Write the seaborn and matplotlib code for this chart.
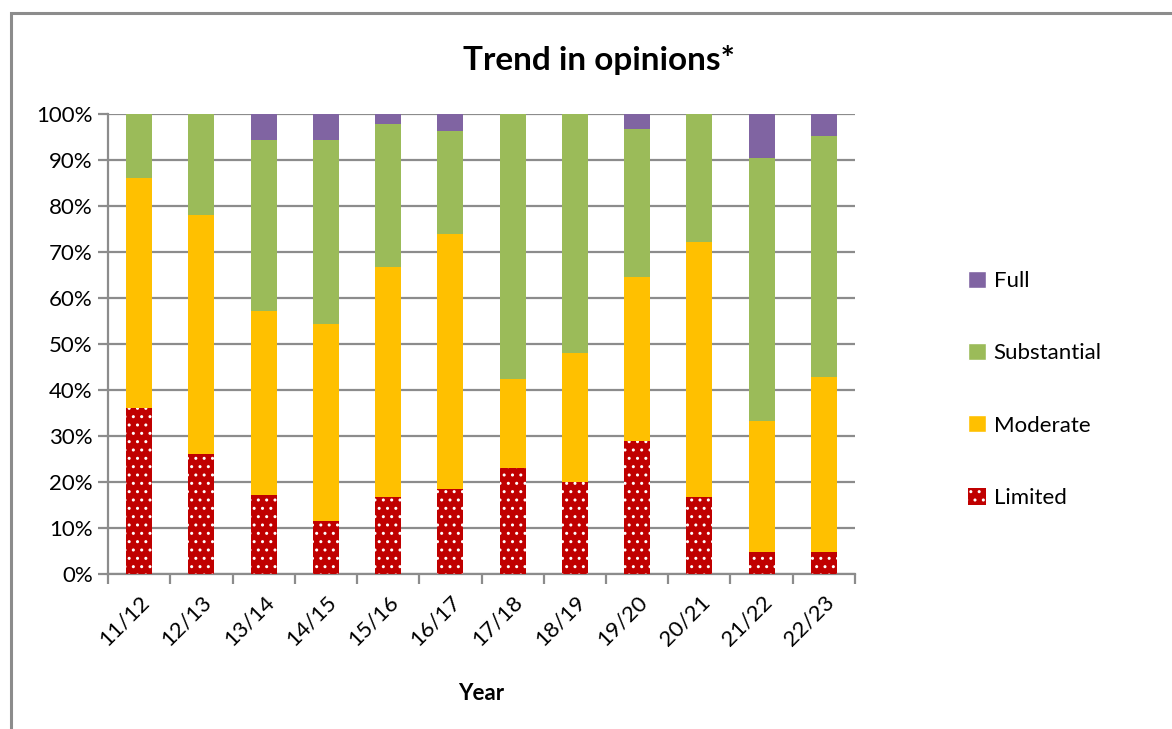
import seaborn as sns
import matplotlib.pyplot as plt
import pandas as pd
import numpy as np
from matplotlib.patches import Rectangle, Patch
from matplotlib.ticker import FixedLocator

# data, percent of responses per year
years = ["11/12", "12/13", "13/14", "14/15", "15/16", "16/17",
         "17/18", "18/19", "19/20", "20/21", "21/22", "22/23"]
limited = [36.0, 26.0, 17.1, 11.5, 16.7, 18.5, 23.1, 20.0, 29.0, 16.7, 4.8, 4.8]
moderate = [50.0, 52.0, 40.0, 42.8, 50.0, 55.5, 19.2, 28.0, 35.5, 55.5, 28.5, 38.1]
substantial = [14.0, 22.0, 37.2, 40.0, 31.2, 22.3, 57.7, 52.0, 32.3, 27.8, 57.2, 52.4]
full = [0.0, 0.0, 5.7, 5.7, 2.1, 3.7, 0.0, 0.0, 3.2, 0.0, 9.5, 4.7]

colors = {"Full": "#8064A2", "Substantial": "#9BBB59",
          "Moderate": "#FFC000", "Limited": "#C00000"}

df = pd.DataFrame({"Year": years, "Limited": limited, "Moderate": moderate,
                   "Substantial": substantial, "Full": full})
# cumulative tops, drawn from the tallest layer down
df["top_Limited"] = df["Limited"]
df["top_Moderate"] = df["top_Limited"] + df["Moderate"]
df["top_Substantial"] = df["top_Moderate"] + df["Substantial"]
df["top_Full"] = df["top_Substantial"] + df["Full"]

sns.set_theme(style="white", rc={"text.color": "black", "xtick.color": "black",
                                 "ytick.color": "black", "axes.labelcolor": "black"})
plt.rcParams['font.family'] = ['Lato', 'DejaVu Sans']
plt.rcParams['hatch.linewidth'] = 1.0

fig = plt.figure(figsize=(11.72, 7.29), dpi=100)
ax = fig.add_axes([0.0922, 0.2126, 0.6373, 0.631])

gray = "#8c8c8c"
for name in ["Full", "Substantial", "Moderate"]:
    sns.barplot(ax=ax, data=df, x="Year", y="top_" + name, color=colors[name],
                width=0.42, saturation=1, linewidth=0, zorder=3)
sns.barplot(ax=ax, data=df, x="Year", y="top_Limited", color=colors["Limited"],
            width=0.42, saturation=1, linewidth=0, edgecolor="white",
            hatch="..", zorder=3)
for p in ax.patches[-len(years):]:
    p.set_edgecolor("white")
    p.set_linewidth(0)

ax.set_ylim(0, 100)
ax.set_xlim(-0.5, len(years) - 0.5)
ax.set_yticks(np.arange(0, 101, 10))
ax.set_yticklabels([f"{v}%" for v in range(0, 101, 10)], fontsize=16)
ax.yaxis.grid(True, color=gray, linewidth=1.6, zorder=0)
ax.set_axisbelow(True)
ax.tick_params(axis="y", left=True, length=7, width=1.6, color=gray, pad=4)

ax.set_xticks(range(len(years)))
ax.set_xticklabels(years, rotation=45, ha="right", rotation_mode="anchor", fontsize=16)
ax.tick_params(axis="x", which="major", length=0, pad=13)
ax.xaxis.set_minor_locator(FixedLocator(np.arange(-0.5, len(years), 1)))
ax.tick_params(axis="x", which="minor", bottom=True, length=7, width=1.6, color=gray)

for s in ["top", "right"]:
    ax.spines[s].set_visible(False)
for s in ["left", "bottom"]:
    ax.spines[s].set_color(gray)
    ax.spines[s].set_linewidth(1.6)

ax.set_ylabel("")
ax.set_xlabel("Year", fontsize=16, fontweight="bold", labelpad=24)
fig.text(0.511, 0.918, "Trend in opinions*", ha="center", va="center",
         fontsize=24, fontweight="bold")

handles = [Patch(facecolor=colors["Full"], label="Full"),
           Patch(facecolor=colors["Substantial"], label="Substantial"),
           Patch(facecolor=colors["Moderate"], label="Moderate"),
           Patch(facecolor=colors["Limited"], edgecolor="white", linewidth=0,
                 hatch="..", label="Limited")]
fig.legend(handles=handles, loc="center left", bbox_to_anchor=(0.809, 0.466),
           frameon=False, fontsize=16, labelspacing=2.35, handlelength=0.8,
           handleheight=0.8, handletextpad=0.35)

# outer chart border
fig.add_artist(Rectangle((11 / 1172, -0.2), 2, 1.2 - 13 / 729, transform=fig.transFigure,
                         fill=False, edgecolor=gray, linewidth=2.2))

fig.savefig("out.png", dpi=100)
